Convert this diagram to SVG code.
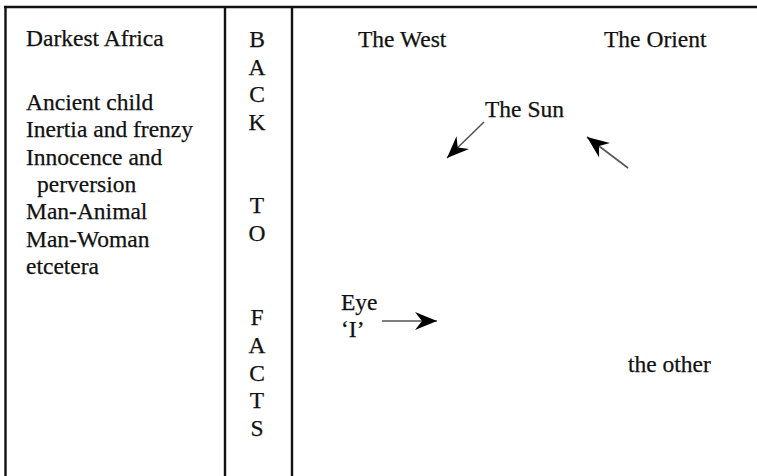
<svg xmlns="http://www.w3.org/2000/svg" width="757" height="476" viewBox="0 0 757 476">
<style>
  text { font-family: "Liberation Serif", "Times New Roman", serif; font-size: 23.5px; fill: #111; stroke: #111; stroke-width: 0.25; }
  .mid { text-anchor: middle; }
  .frame { stroke: #111; stroke-width: 2.4; fill: none; }
  .conn { stroke: #555; stroke-width: 1.6; fill: none; }
</style>
<defs>
  <marker id="ah" markerUnits="userSpaceOnUse" markerWidth="26" markerHeight="22" viewBox="-2 -11 26 22" refX="22" refY="0" orient="auto">
    <path d="M0,-9 L22,0 L0,9 L7,0 Z" fill="#000"/>
  </marker>
</defs>
<rect width="757" height="476" fill="#fff"/>
<g id="frame">
  <line class="frame" x1="4" y1="7" x2="757" y2="7"/>
  <line class="frame" x1="5.5" y1="6" x2="5.5" y2="476"/>
  <line class="frame" x1="225" y1="6" x2="225" y2="476"/>
  <line class="frame" x1="292" y1="6" x2="292" y2="476"/>
</g>
<g id="left-column">
  <text x="26" y="46">Darkest Africa</text>
  <text x="26" y="110">Ancient child</text>
  <text x="26" y="137">Inertia and frenzy</text>
  <text x="26" y="164.5">Innocence and</text>
  <text x="37" y="192">perversion</text>
  <text x="26" y="219">Man-Animal</text>
  <text x="26" y="246.5">Man-Woman</text>
  <text x="26" y="274">etcetera</text>
</g>
<g id="middle-column">
  <text class="mid" x="257" y="47">B</text>
  <text class="mid" x="257" y="74.5">A</text>
  <text class="mid" x="257" y="102">C</text>
  <text class="mid" x="257" y="129.5">K</text>
  <text class="mid" x="257" y="213">T</text>
  <text class="mid" x="257" y="241">O</text>
  <text class="mid" x="257" y="325">F</text>
  <text class="mid" x="257" y="353">A</text>
  <text class="mid" x="257" y="380.5">C</text>
  <text class="mid" x="257" y="408">T</text>
  <text class="mid" x="257" y="435.5">S</text>
</g>
<g id="the-west"><text x="358" y="47">The West</text></g>
<g id="the-orient"><text x="604" y="47">The Orient</text></g>
<g id="the-sun"><text x="485" y="117">The Sun</text></g>
<g id="eye"><text x="341" y="310">Eye</text><text x="341" y="337">‘I’</text></g>
<g id="the-other"><text x="628" y="372">the other</text></g>
<g id="connectors">
  <line class="conn" x1="484" y1="122" x2="447" y2="158" marker-end="url(#ah)"/>
  <line class="conn" x1="628" y1="168" x2="587" y2="137" marker-end="url(#ah)"/>
  <line class="conn" x1="382" y1="321" x2="437" y2="321" marker-end="url(#ah)"/>
</g>
</svg>
